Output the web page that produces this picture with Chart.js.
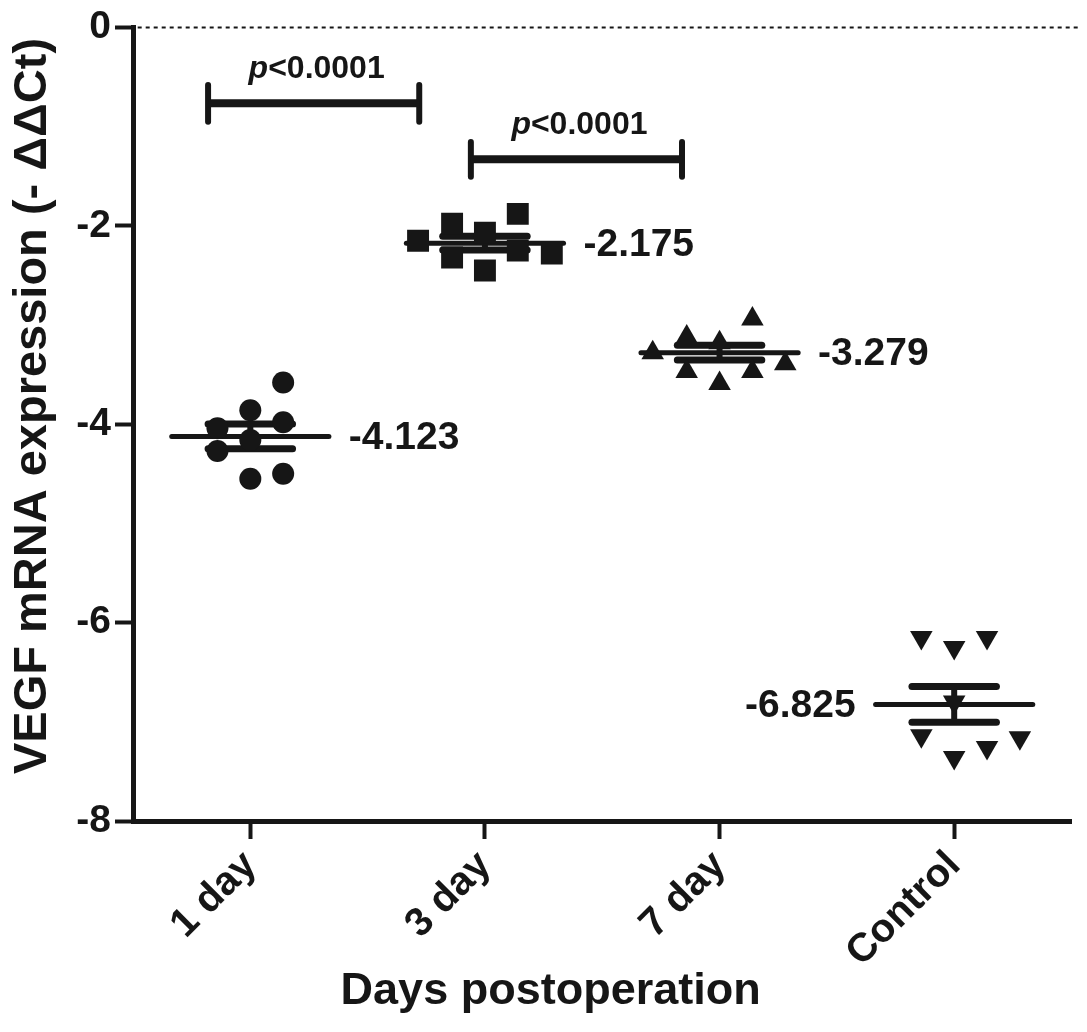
<!DOCTYPE html>
<html><head><meta charset="utf-8">
<script src="https://cdn.jsdelivr.net/npm/chart.js@4.4.0/dist/chart.umd.min.js"></script>
<style>html,body{margin:0;padding:0;background:#fff;}canvas{display:block;}</style>
</head><body>
<canvas id="c" width="1087" height="1032" style="width:1087px;height:1032px"></canvas>
<script>
// ---- data ----
const categories = ['1 day', '3 day', '7 day', 'Control'];
const day1Offsets = [-0.14, -0.14, 0, 0, 0, 0.14, 0.14, 0.14];
const day1Values  = [-4.04, -4.27, -3.86, -4.16, -4.55, -3.58, -3.98, -4.50];
const day3Offsets = [-0.285, -0.14, -0.14, 0, 0, 0.14, 0.14, 0.285];
const day3Values  = [-2.15, -1.98, -2.32, -2.07, -2.45, -1.88, -2.25, -2.28];
const day7Offsets = [-0.285, -0.14, -0.14, 0, 0, 0.14, 0.14, 0.28];
const day7Values  = [-3.28, -3.12, -3.47, -3.18, -3.59, -2.94, -3.47, -3.39];
const controlOffsets = [-0.14, 0, 0.14, 0, -0.14, 0, 0.14, 0.28];
const controlValues  = [-6.15, -6.25, -6.15, -6.80, -7.14, -7.36, -7.26, -7.16];
const means = [-4.123, -2.175, -3.279, -6.825];
const sems  = [0.125, 0.07, 0.075, 0.18];
const yMin = -8, yMax = 0, yStep = 2;
const pLabels = ['p<0.0001', 'p<0.0001'];
const bracketX1 = [0.82, 1.94];
const bracketX2 = [1.72, 2.84];
const bracketY  = [-0.765, -1.33];
const bracketCap = [0.185, 0.175];
const xTitle = 'Days postoperation';
const yTitle = 'VEGF mRNA expression (- ΔΔCt)';

// ---- styling ----
const INK = '#161616';
const FONT = '"Liberation Sans", Arial, sans-serif';
const MEAN_HALF = 0.335, SEM_HALF = 0.18;

function pts(offs, vals, c) { return vals.map((v, i) => ({ x: c + offs[i], y: v })); }
function seg(x1, y1, x2, y2, w, extra) {
  return Object.assign({ type: 'scatter', showLine: true, data: [{ x: x1, y: y1 }, { x: x2, y: y2 }],
    borderColor: INK, borderWidth: w, pointRadius: 0, borderCapStyle: 'round', fill: false }, extra || {});
}

const datasets = [];
datasets.push(seg(0.52, 0, 4.535, 0, 2, { borderDash: [4, 4], borderCapStyle: 'butt', clip: false }));
const groups = [[day1Offsets, day1Values, 'circle', 11, 0], [day3Offsets, day3Values, 'rect', 15.5, 0],
  [day7Offsets, day7Values, 'triangle', 13, 0], [controlOffsets, controlValues, 'triangle', 13, 180]];
groups.forEach((g, i) => {
  datasets.push({ type: 'scatter', data: pts(g[0], g[1], i + 1), pointStyle: g[2], pointRadius: g[3],
    pointRotation: g[4], backgroundColor: INK, borderColor: INK, borderWidth: 0, pointHoverRadius: g[3] });
});
means.forEach((m, i) => {
  const c = i + 1, s = sems[i];
  datasets.push(seg(c - MEAN_HALF, m, c + MEAN_HALF, m, 5));
  datasets.push(seg(c - SEM_HALF, m + s, c + SEM_HALF, m + s, 7));
  datasets.push(seg(c - SEM_HALF, m - s, c + SEM_HALF, m - s, 7));
  datasets.push(seg(c, m - s, c, m + s, 6, { borderCapStyle: 'butt' }));
});
bracketY.forEach((by, i) => {
  datasets.push(seg(bracketX1[i], by, bracketX2[i], by, 8, { borderCapStyle: 'butt' }));
  datasets.push(seg(bracketX1[i], by + bracketCap[i], bracketX1[i], by - bracketCap[i], 6));
  datasets.push(seg(bracketX2[i], by + bracketCap[i], bracketX2[i], by - bracketCap[i], 6));
});

const textPlugin = {
  id: 'texts',
  afterDraw(chart) {
    const { ctx } = chart, x = chart.scales.x, y = chart.scales.y;
    ctx.save();
    ctx.fillStyle = INK;
    ctx.textBaseline = 'middle';
    ctx.font = 'bold 39px ' + FONT;
    means.forEach((m, i) => {
      const left = i === 3;
      ctx.textAlign = left ? 'right' : 'left';
      const px = x.getPixelForValue(i + 1 + (left ? -0.42 : 0.42));
      ctx.fillText(m.toFixed(3), px, y.getPixelForValue(m) + 2);
    });
    pLabels.forEach((lab, i) => {
      const cx = x.getPixelForValue((bracketX1[i] + bracketX2[i]) / 2) + 3;
      const cy = y.getPixelForValue(bracketY[i]) - 34;
      const f1 = 'italic bold 32px ' + FONT, f2 = 'bold 32px ' + FONT;
      const a = lab.slice(0, 1), b = lab.slice(1);
      ctx.font = f1; const w1 = ctx.measureText(a).width;
      ctx.font = f2; const w2 = ctx.measureText(b).width;
      const sx = cx - (w1 + w2) / 2;
      ctx.textAlign = 'left';
      ctx.font = f1; ctx.fillText(a, sx, cy);
      ctx.font = f2; ctx.fillText(b, sx + w1, cy);
    });
    // axis titles
    ctx.textAlign = 'center';
    ctx.font = 'bold 45px ' + FONT;
    ctx.fillText(xTitle, x.getPixelForValue(2.28), 992);
    ctx.save();
    ctx.translate(33, 406);
    ctx.rotate(-Math.PI / 2);
    ctx.font = 'bold 47px ' + FONT;
    ctx.fillText(yTitle, 0, 0);
    ctx.restore();
    ctx.restore();
  }
};

new Chart(document.getElementById('c'), {
  type: 'scatter',
  data: { datasets },
  options: {
    responsive: false, animation: false,
    layout: { padding: { left: 0, right: 14, top: 26, bottom: 0 } },
    plugins: { legend: { display: false }, tooltip: { enabled: false } },
    scales: {
      x: {
        type: 'linear', min: 0.5, max: 4.5,
        afterBuildTicks: s => { s.ticks = categories.map((c, i) => ({ value: i + 1 })); },
        afterFit: s => { s.height = 211; },
        border: { display: true, color: INK, width: 5 },
        grid: { drawOnChartArea: false, drawTicks: true, tickLength: 18, tickWidth: 4, color: INK },
        ticks: { callback: v => categories[Math.round(v) - 1], minRotation: 45, maxRotation: 45, padding: 3,
          color: INK, font: { family: FONT, weight: 'bold', size: 40 } },
        title: { display: false }
      },
      y: {
        type: 'linear', min: yMin, max: yMax,
        afterBuildTicks: s => { const t = []; for (let v = yMax; v >= yMin; v -= yStep) t.push({ value: v }); s.ticks = t.reverse(); },
        afterFit: s => { s.width = 133; },
        border: { display: true, color: INK, width: 5 },
        grid: { drawOnChartArea: false, drawTicks: true, tickLength: 18, tickWidth: 4, color: INK },
        ticks: { callback: v => String(v), padding: 4, color: INK, font: { family: FONT, weight: 'bold', size: 39 } },
        title: { display: false }
      }
    }
  },
  plugins: [textPlugin]
});
</script>
</body></html>
